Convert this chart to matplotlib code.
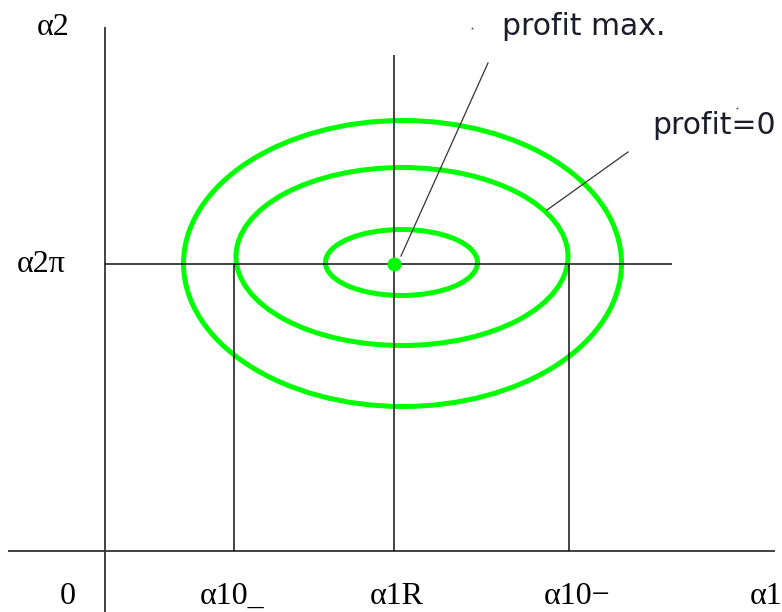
import matplotlib
matplotlib.use("Agg")
import matplotlib.pyplot as plt
from matplotlib.patches import Ellipse

# Canvas in pixel units (x right, y down).
W, H = 782, 612

# Axes of the diagram.
origin_x, origin_y = 105, 551
yaxis_top = 27
xaxis_left, xaxis_right = 8, 775

# Optimum point (alpha1R, alpha2pi).
opt_x, opt_y = 394, 264
hline_left, hline_right = 105, 672
vline_top = 55

# Iso-profit ellipses: centre x, centre y, width, height.
ell_cx = [401.5, 402.0, 402.5]
ell_cy = [262.5, 256.5, 263.5]
ell_w = [152, 332, 438]
ell_h = [66, 178, 286]

# Feet of the profit=0 contour on the horizontal through the optimum.
foot_x = [234, 569]

# Tick labels.
xtick_x = [68, 232, 397, 577, 766]
xtick_labels = ["0", "α10_", "α1R", "α10−", "α1"]
ytick_x = [37, 17]
ytick_y = [35, 272]
ytick_labels = ["α2", "α2π"]

# Annotations: text, text position, leader line endpoints.
notes = ["profit max.", "profit=0"]
note_xy = [(502, 35), (652, 134)]
leader_x = [(488, 401), (628, 547)]
leader_y = [(63, 256), (152, 210)]

fig = plt.figure(figsize=(W / 100, H / 100), dpi=100)
ax = fig.add_axes([0, 0, 1, 1])
ax.set_xlim(0, W)
ax.set_ylim(H, 0)
ax.axis("off")

axis_kw = dict(color="#333333", lw=1.3, solid_capstyle="butt")
ax.plot([origin_x, origin_x], [yaxis_top, H], **axis_kw)
ax.plot([xaxis_left, xaxis_right], [origin_y, origin_y], **axis_kw)

line_kw = dict(color="#111111", lw=1.1, solid_capstyle="butt")
ax.plot([hline_left, hline_right], [opt_y, opt_y], **line_kw)
ax.plot([opt_x, opt_x], [vline_top, origin_y], **line_kw)
for fx in foot_x:
    ax.plot([fx, fx], [opt_y, origin_y], **line_kw)

for cx, cy, w, h in zip(ell_cx, ell_cy, ell_w, ell_h):
    ax.add_patch(Ellipse((cx, cy), w, h, fill=False, ec="#00ff00", lw=3.6))

ax.plot(opt_x, opt_y, "o", color="#00ff00", ms=9, mec="#00ff00")

for lx, ly in zip(leader_x, leader_y):
    ax.plot(lx, ly, color="#333333", lw=0.9)

serif = ["Liberation Serif", "DejaVu Serif"]
for x, s in zip(xtick_x, xtick_labels):
    ax.text(x, 604, s, ha="center", va="baseline", fontsize=23, family=serif)
for x, y, s in zip(ytick_x, ytick_y, ytick_labels):
    ax.text(x, y, s, ha="left", va="baseline", fontsize=23, family=serif)

for s, (x, y) in zip(notes, note_xy):
    ax.text(x, y, s, ha="left", va="baseline", fontsize=21.5,
            family="DejaVu Sans", color="#1c1c2a")

# Stray marks next to the annotation text.
ax.plot([472, 737], [28, 108], "s", color="#444444", ms=1.2, mew=0)

fig.savefig("out.png", dpi=100)
